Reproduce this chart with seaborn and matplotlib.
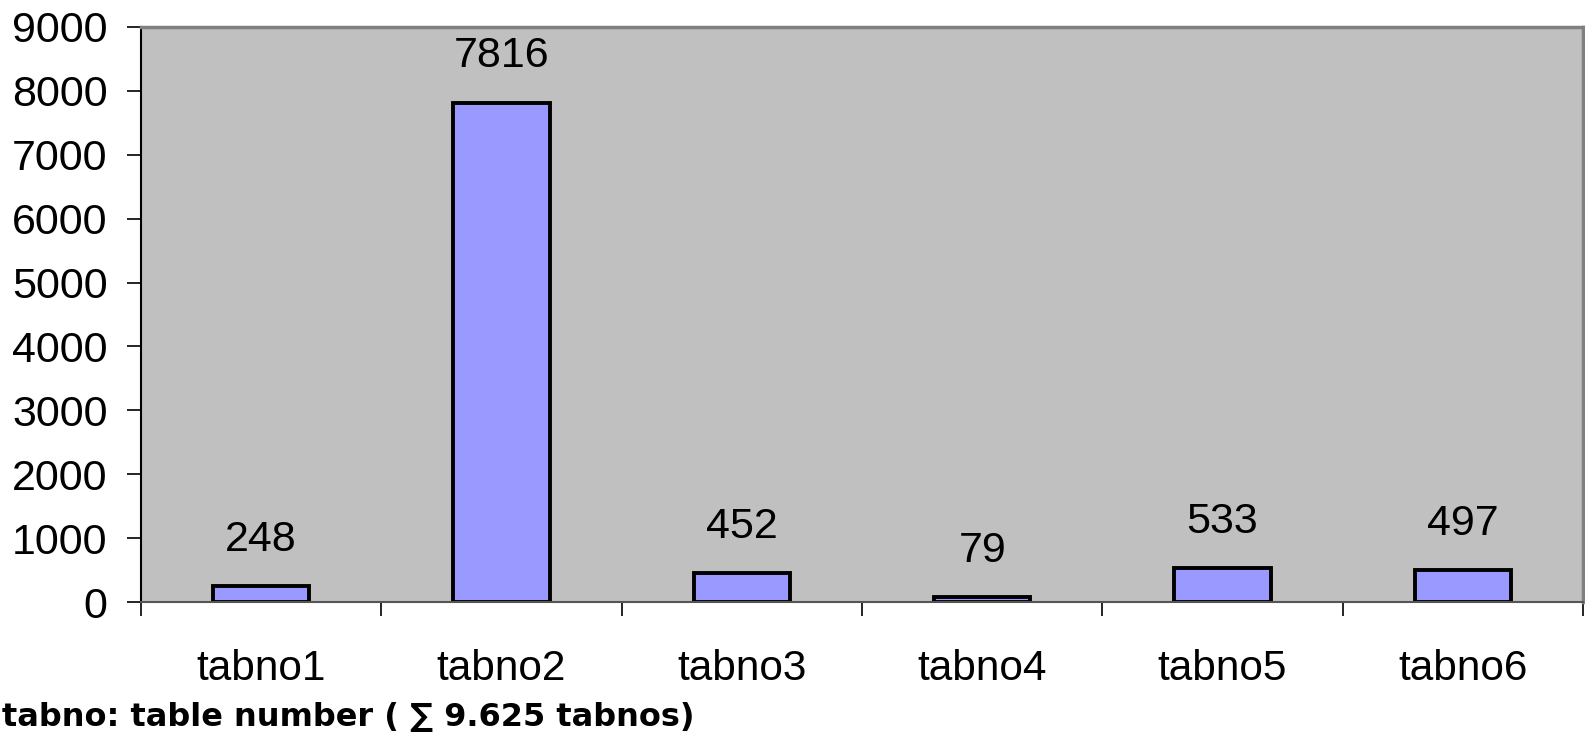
import matplotlib
matplotlib.use("Agg")
import matplotlib.pyplot as plt
import seaborn as sns
import pandas as pd
import numpy as np

# Table counts per table number
categories = ["tabno1", "tabno2", "tabno3", "tabno4", "tabno5", "tabno6"]
counts = [248, 7816, 452, 79, 533, 497]
y_ticks = [0, 1000, 2000, 3000, 4000, 5000, 6000, 7000, 8000, 9000]
footnote = "tabno: table number ( \u2211 9.625 tabnos)"

sns.set_style("white")
plt.rcParams["font.family"] = ["Liberation Sans", "DejaVu Sans"]
plt.rcParams["text.color"] = "black"
plt.rcParams["xtick.color"] = "black"
plt.rcParams["ytick.color"] = "black"

df = pd.DataFrame({"tabno": categories, "count": counts})

fig = plt.figure(figsize=(15.85, 7.32), dpi=100)
ax = fig.add_axes([141 / 1585, 1 - 602 / 732, (1583 - 141) / 1585, (602 - 27) / 732])
ax.set_facecolor("#C0C0C0")

sns.barplot(data=df, x="tabno", y="count", ax=ax, color="#9999FF",
            width=0.4, edgecolor="black", linewidth=2.8, saturation=1)

ax.bar_label(ax.containers[0], labels=[str(v) for v in counts],
             padding=19, fontsize=31, color="black")

ax.set_xlim(-0.5, len(categories) - 0.5)
ax.set_ylim(0, 9000)
ax.set_yticks(y_ticks)
ax.set_yticklabels([str(t) for t in y_ticks], fontsize=31)
ax.tick_params(axis="y", direction="out", length=10, width=1.2, color="black",
               left=True, pad=14)

# Category labels centred, tick marks at category boundaries
ax.set_xticks(range(len(categories)))
ax.set_xticklabels(categories, fontsize=30.5)
ax.tick_params(axis="x", which="major", length=0, pad=34)
ax.set_xticks(np.arange(-0.5, len(categories), 1.0), minor=True)
ax.tick_params(axis="x", which="minor", direction="out", length=10, width=1.2,
               color="black", bottom=True)

ax.set_xlabel("")
ax.set_ylabel("")

for side in ["top", "right"]:
    ax.spines[side].set_visible(True)
    ax.spines[side].set_color("#808080")
    ax.spines[side].set_linewidth(2.5)
ax.spines["left"].set_color("black")
ax.spines["left"].set_linewidth(1.5)
ax.spines["bottom"].set_color("#555555")
ax.spines["bottom"].set_linewidth(1.5)

fig.text(2 / 1585, 1 - 726 / 732, footnote, fontsize=23, fontweight="bold",
         family=["DejaVu Sans"], color="black", ha="left", va="baseline")

fig.savefig("out.png", dpi=100)
